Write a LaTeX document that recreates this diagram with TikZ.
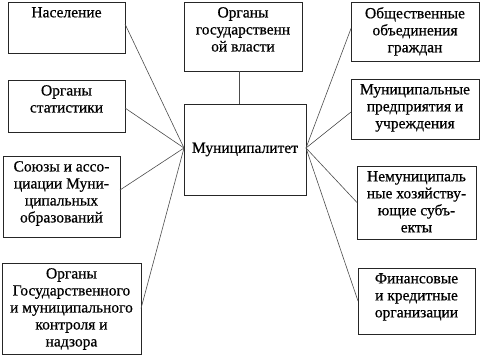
\documentclass[tikz,border=0pt]{standalone}
\usepackage{fontspec}
\setmainfont{Liberation Serif}
\newfontfamily\tnr[FakeBold=0.6]{Liberation Serif}
\newcommand\mybox[6]{%
  \node[box, minimum width=#4-#2, minimum height=#5-#3] (#1) at ({(#2+#4)/2},{(#3+#5)/2}) {};
  \node[txt, anchor=north] (#1t) at ([yshift=-4pt]#1.north) {#6};}
\begin{document}
\begin{tikzpicture}[x=1pt,y=-1pt,
  box/.style={draw=black!85, line width=0.9pt, inner sep=0pt, outer sep=0pt},
  txt/.style={align=center, inner sep=1pt, font=\tnr\fontsize{15.5}{17}\selectfont},
  conn/.style={draw=black!70, line width=0.6pt}]
\useasboundingbox (0,0) rectangle (480,356);
\mybox{nas}{8}{2}{125}{53}{Население}
\mybox{stat}{8}{80}{125}{132}{Органы\\статистики}
\mybox{soyuz}{3}{156}{120}{237}{Союзы и ассо-\\циации Муни-\\ципальных\\образований}
\mybox{kontrol}{2}{263}{141}{354}{Органы\\Государственного\\и муниципального\\контроля и\\надзора}
\mybox{vlast}{184}{2}{302}{71}{Органы\\государственн\\ой власти}
\node[box, minimum width=122pt, minimum height=91pt, font=\tnr\fontsize{15.5}{17}\selectfont] (m) at (245,149.5) {Муниципалитет};
\mybox{obsch}{351}{2}{479}{61}{Общественные\\объединения\\граждан}
\mybox{pred}{351}{79}{479}{139}{Муниципальные\\предприятия и\\учреждения}
\mybox{nemun}{357}{166}{476}{239}{Немуниципаль\\ные хозяйству-\\ющие субъ-\\екты}
\mybox{fin}{358}{268}{475}{334}{Финансовые\\и кредитные\\организации}
% connectors
\draw[conn] ([yshift=3.5pt]nas.east) -- ([yshift=1.5pt]m.west);
\draw[conn] ([yshift=-2pt]stat.east) -- ([yshift=1.5pt]m.west);
\draw[conn] ([yshift=6.5pt]soyuz.east) -- ([yshift=1.5pt]m.west);
\draw[conn] (kontrol.east) -- ([yshift=1.5pt]m.west);
\draw[conn] ([yshift=3pt]obsch.west) -- ([yshift=1.5pt]m.east);
\draw[conn] ([yshift=-3pt]pred.west) -- ([yshift=1.5pt]m.east);
\draw[conn] (nemun.west) -- ([yshift=1.5pt]m.east);
\draw[conn] (fin.west) -- ([yshift=1.5pt]m.east);
\draw[conn, line width=0.8pt] ([xshift=-4pt]vlast.south) -- ([xshift=-4pt]vlast.south |- m.north);
\end{tikzpicture}
\end{document}
